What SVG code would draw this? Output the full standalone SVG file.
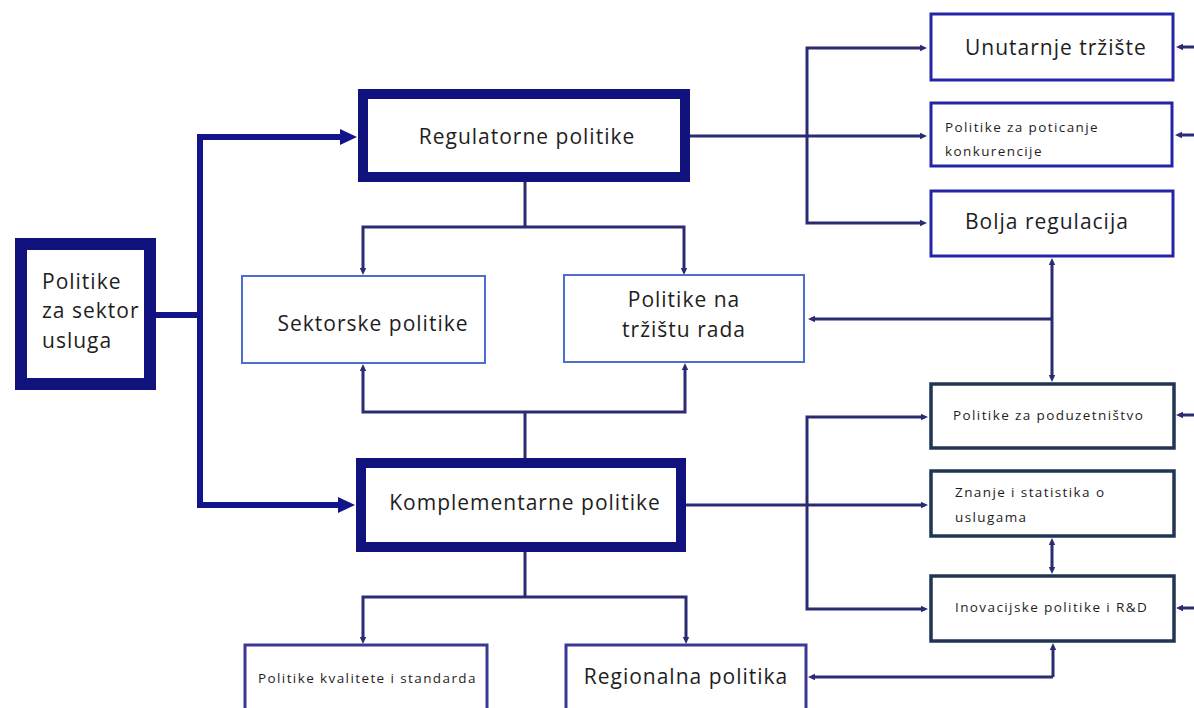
<svg xmlns="http://www.w3.org/2000/svg" width="1194" height="708" viewBox="0 0 1194 708">
<style>
text{font-family:"Open Sans","Liberation Sans",sans-serif;fill:#1e1e1e}
.big{font-size:21px;letter-spacing:1px}
.sm{font-size:13.5px;letter-spacing:1.4px}
.thick{fill:#fff;stroke:#12127e;stroke-width:10}
.left{fill:#fff;stroke:#12127e;stroke-width:12}
.light{fill:#fff;stroke:#4d6dd2;stroke-width:2}
.rt{fill:#fff;stroke:#2424a8;stroke-width:3}
.rb{fill:#fff;stroke:#1f3552;stroke-width:3.5}
.bt{fill:#fff;stroke:#3a3a96;stroke-width:3}
.c{fill:none;stroke:#2b2b74;stroke-width:3;stroke-linejoin:miter}
.cb{fill:none;stroke:#14148a;stroke-width:6;stroke-linejoin:miter}
</style>
<defs>
<marker id="a" markerWidth="8" markerHeight="8" refX="3" refY="4" orient="auto" markerUnits="userSpaceOnUse"><path d="M0,0.8 L7,4 L0,7.2z" fill="#2b2b74"/></marker>
<marker id="ab" markerWidth="18" markerHeight="16" refX="5" refY="8" orient="auto" markerUnits="userSpaceOnUse"><path d="M0,0 L17,8 L0,16z" fill="#14148a"/></marker>
</defs>
<rect width="1194" height="708" fill="#fff"/>
<g id="connectors">
<path class="cb" d="M156,315 H200"/>
<path class="cb" d="M200,318 V137 H345" marker-end="url(#ab)"/>
<path class="cb" d="M200,312 V505 H343" marker-end="url(#ab)"/>
<path class="c" d="M525,182 V227"/>
<path class="c" d="M525,227 H363 V271" marker-end="url(#a)"/>
<path class="c" d="M525,227 H684 V271" marker-end="url(#a)"/>
<path class="c" d="M525,458 V412"/>
<path class="c" d="M525,412 H363 V368" marker-end="url(#a)"/>
<path class="c" d="M525,412 H685 V367" marker-end="url(#a)"/>
<path class="c" d="M525,552 V597"/>
<path class="c" d="M525,597 H363 V640" marker-end="url(#a)"/>
<path class="c" d="M525,597 H686 V640" marker-end="url(#a)"/>
<path class="c" d="M690,136 H807"/>
<path class="c" d="M807,136 V48 H923" marker-end="url(#a)"/>
<path class="c" d="M807,136 V223 H923" marker-end="url(#a)"/>
<path class="c" d="M807,136 H923" marker-end="url(#a)"/>
<path class="c" d="M686,505 H807"/>
<path class="c" d="M807,505 V417 H924" marker-end="url(#a)"/>
<path class="c" d="M807,505 V609 H924" marker-end="url(#a)"/>
<path class="c" d="M807,505 H924" marker-end="url(#a)"/>
<path class="c" d="M1194,47 H1180" marker-end="url(#a)"/>
<path class="c" d="M1194,135 H1179" marker-end="url(#a)"/>
<path class="c" d="M1194,415 H1180" marker-end="url(#a)"/>
<path class="c" d="M1194,608 H1180" marker-end="url(#a)"/>
<path class="c" d="M1052,319 V262" marker-end="url(#a)"/>
<path class="c" d="M1052,319 V378" marker-end="url(#a)"/>
<path class="c" d="M1052,319 H812" marker-end="url(#a)"/>
<path class="c" d="M1052,556 V542" marker-end="url(#a)"/>
<path class="c" d="M1052,556 V570" marker-end="url(#a)"/>
<path class="c" d="M1053,677 V647" marker-end="url(#a)"/>
<path class="c" d="M1053,677 H812" marker-end="url(#a)"/>
</g>
<g id="n-sektor-usluga">
<rect class="left" x="21" y="244" width="129" height="140"/>
<text class="big" x="42" y="289">Politike</text>
<text class="big" x="42" y="318">za sektor</text>
<text class="big" x="42" y="348">usluga</text>
</g>
<g id="n-regulatorne">
<rect class="thick" x="363" y="94" width="322" height="83"/>
<text class="big" x="527" y="144" text-anchor="middle">Regulatorne politike</text>
</g>
<g id="n-komplementarne">
<rect class="thick" x="361" y="463" width="320" height="84"/>
<text class="big" x="525" y="510" text-anchor="middle">Komplementarne politike</text>
</g>
<g id="n-sektorske">
<rect class="light" x="242" y="276" width="243" height="87"/>
<text class="big" x="373" y="331" text-anchor="middle">Sektorske politike</text>
</g>
<g id="n-trziste-rada">
<rect class="light" x="564" y="275" width="240" height="87"/>
<text class="big" x="684" y="307" text-anchor="middle">Politike na</text>
<text class="big" x="684" y="337" text-anchor="middle">tržištu rada</text>
</g>
<g id="n-kvalitete">
<rect class="bt" x="245" y="645" width="242" height="75"/>
<text class="sm" x="258" y="683">Politike kvalitete i standarda</text>
</g>
<g id="n-regionalna">
<rect class="bt" x="566" y="645" width="240" height="75"/>
<text class="big" x="686" y="684" text-anchor="middle">Regionalna politika</text>
</g>
<g id="n-unutarnje">
<rect class="rt" x="931" y="14" width="242" height="66"/>
<text class="big" x="965" y="55">Unutarnje tržište</text>
</g>
<g id="n-konkurencije">
<rect class="rt" x="931" y="103" width="241" height="63"/>
<text class="sm" x="945" y="132">Politike za poticanje</text>
<text class="sm" x="945" y="156">konkurencije</text>
</g>
<g id="n-bolja">
<rect class="rt" x="931" y="191" width="242" height="65"/>
<text class="big" x="965" y="229">Bolja regulacija</text>
</g>
<g id="n-poduzetnistvo">
<rect class="rb" x="931" y="384" width="243" height="64"/>
<text class="sm" x="953" y="420">Politike za poduzetništvo</text>
</g>
<g id="n-znanje">
<rect class="rb" x="931" y="471" width="243" height="65"/>
<text class="sm" x="955" y="497">Znanje i statistika o</text>
<text class="sm" x="955" y="522">uslugama</text>
</g>
<g id="n-inovacijske">
<rect class="rb" x="931" y="576" width="243" height="65"/>
<text class="sm" x="955" y="612">Inovacijske politike i R&amp;D</text>
</g>
</svg>
